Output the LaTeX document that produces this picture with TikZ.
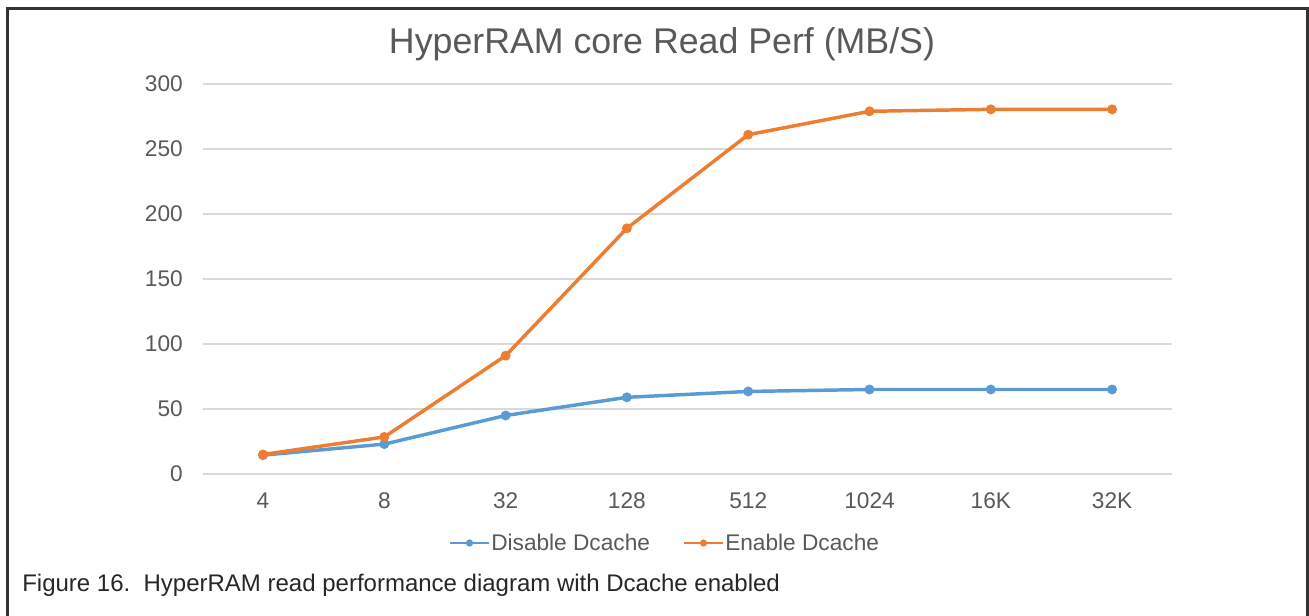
\documentclass[tikz,border=0pt]{standalone}
\usepackage{fontspec}
\setmainfont{Liberation Sans}
\usetikzlibrary{positioning}
\definecolor{gridgray}{HTML}{D9D9D9}
\definecolor{txtgray}{HTML}{595959}
\definecolor{offblue}{HTML}{5B9BD5}
\definecolor{onorange}{HTML}{ED7D31}

\begin{document}
\begin{tikzpicture}[x=0.75pt, y=-0.75pt]
\tikzset{
    frame/.style={draw=black!80, line width=1.6pt},
    gridline/.style={draw=gridgray, line width=1.3pt},
    series/.style={line width=2.6pt, line join=round, line cap=round},
    dot/.style={circle, fill, inner sep=0pt, minimum size=7.5pt},
    keydot/.style={circle, fill, inner sep=0pt, minimum size=5.5pt},
    axlabel/.style={text=txtgray, inner sep=0pt, font=\fontsize{17}{20}\selectfont},
    title/.style={text=txtgray, inner sep=0pt, font=\fontsize{26.8}{31}\selectfont}
}
\useasboundingbox (0,0) rectangle (1309,616);

% --- Frame (open at the bottom) ---
\draw[frame] (7.5,616) -- (7.5,8.5) -- (1307.5,8.5) -- (1307.5,616);

% --- Title ---
\node[title, anchor=base] (chartTitle) at (662,54) {HyperRAM core Read Perf (MB/S)};

% --- Value axis and grid ---
\foreach \t in {0,50,...,300} {
    \draw[gridline] (203,{474-1.3*\t}) -- (1172,{474-1.3*\t});
    \node[axlabel, anchor=east] (yl\t) at (183,{474-1.3*\t}) {\t};
}

% --- Category axis ---
\foreach \c [count=\i] in {4,8,32,128,512,1024,16K,32K}
    \node[axlabel, anchor=base] (xl\i) at ({263+(\i-1)*121.3},508) {\c};

% --- Disable Dcache ---
\foreach \v [count=\i] in {14.5,23,45,59,63.5,65,65,65}
    \node[dot, offblue] (d\i) at ({263+(\i-1)*121.3},{474-1.3*\v}) {};
\draw[series, offblue] (d1.center) \foreach \i in {2,...,8} {-- (d\i.center)};

% --- Enable Dcache ---
\foreach \v [count=\i] in {15,28.5,91,189,261,279,280.5,280.5}
    \node[dot, onorange] (e\i) at ({263+(\i-1)*121.3},{474-1.3*\v}) {};
\draw[series, onorange] (e1.center) \foreach \i in {2,...,8} {-- (e\i.center)};

% --- Legend ---
\coordinate (keyDa) at (450,543);
\coordinate (keyDb) at (489,543);
\node[keydot, offblue] (keyDdot) at (469.5,543) {};
\draw[series, offblue, line width=2.2pt, line cap=butt] (keyDa) -- (keyDb);
\node[axlabel, anchor=base west] (keyDtxt) at (491,550) {Disable Dcache};

\coordinate (keyEa) at (684,543);
\coordinate (keyEb) at (723,543);
\node[keydot, onorange] (keyEdot) at (703.5,543) {};
\draw[series, onorange, line width=2.2pt, line cap=butt] (keyEa) -- (keyEb);
\node[axlabel, anchor=base west] (keyEtxt) at (725,550) {Enable Dcache};

% --- Caption ---
\node[anchor=base west, inner sep=0pt, text=black!85, font=\fontsize{18}{21}\selectfont]
    (caption) at (22,591) {Figure 16.\ \ HyperRAM read performance diagram with Dcache enabled};

\end{tikzpicture}
\end{document}
